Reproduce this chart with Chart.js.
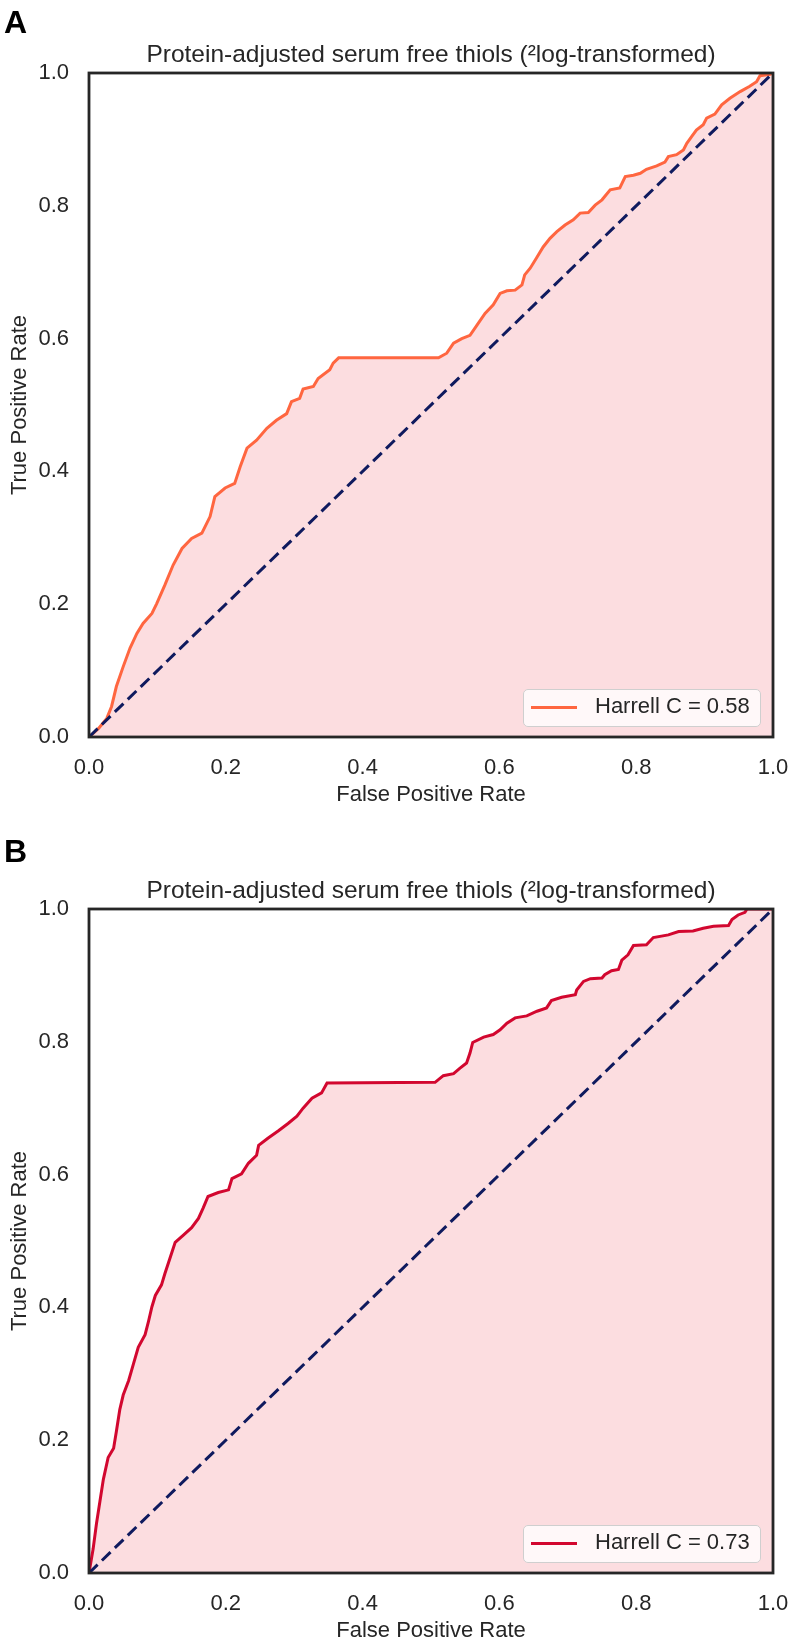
<!DOCTYPE html>
<html>
<head>
<meta charset="utf-8">
<script src="https://cdn.jsdelivr.net/npm/chart.js@4.4.1/dist/chart.umd.min.js"></script>
<style>
  html, body { margin: 0; padding: 0; background: #fff; }
  body { width: 791px; height: 1646px; position: relative; overflow: hidden;
         font-family: "Liberation Sans", Arial, sans-serif; color: #262626; }
  .panel { position: absolute; left: 0; width: 791px; height: 810px; }
  .legend { position: absolute; left: 523px; top: 689px; width: 236px; height: 36px;
            border: 1px solid #cfcfcf; border-radius: 5px; background: rgba(255,255,255,0.8); }
  .legend .swatch { position: absolute; left: 7px; top: 16px; width: 46px; height: 3px; }
  .legend .text { position: absolute; left: 71px; top: 4px; font-size: 22px; line-height: 24px; white-space: nowrap; }
</style>
</head>
<body>

<div class="panel" style="top:0">
  <canvas id="chartA" width="791" height="810"></canvas>
  <div class="legend"><span class="swatch" style="background:#FF6640"></span><span class="text">Harrell C = 0.58</span></div>
</div>
<div class="panel" style="top:836px">
  <canvas id="chartB" width="791" height="810"></canvas>
  <div class="legend"><span class="swatch" style="background:#D2072F"></span><span class="text">Harrell C = 0.73</span></div>
</div>

<script>
// ============================================================
//  ROC curves
// ============================================================

const titleText = 'Protein-adjusted serum free thiols (\u00B2log-transformed)';
const tickValues = [0, 0.2, 0.4, 0.6, 0.8, 1.0];
const chanceLine = [0, 1];

// Panel A
const fprA = [0, 0.014, 0.026, 0.033, 0.040, 0.050, 0.060, 0.070, 0.079, 0.092,
    0.099, 0.111, 0.123, 0.136, 0.150, 0.165, 0.177, 0.184, 0.199, 0.213,
    0.221, 0.231, 0.245, 0.260, 0.274, 0.289, 0.296, 0.308, 0.313, 0.328,
    0.335, 0.352, 0.357, 0.365, 0.511, 0.523, 0.533, 0.545, 0.557, 0.567,
    0.579, 0.591, 0.601, 0.611, 0.623, 0.633, 0.637, 0.645, 0.654, 0.664,
    0.674, 0.684, 0.696, 0.708, 0.718, 0.730, 0.740, 0.750, 0.762, 0.776,
    0.784, 0.796, 0.806, 0.815, 0.830, 0.842, 0.847, 0.859, 0.869, 0.874,
    0.881, 0.888, 0.898, 0.903, 0.915, 0.925, 0.937, 0.952, 0.966, 0.976,
    0.981, 0.996, 1.0];
const tprA = [0, 0.013, 0.028, 0.046, 0.076, 0.106, 0.134, 0.156, 0.171, 0.186,
    0.201, 0.229, 0.259, 0.284, 0.299, 0.307, 0.332, 0.362, 0.375, 0.382,
    0.407, 0.435, 0.447, 0.465, 0.477, 0.487, 0.505, 0.510, 0.524, 0.528,
    0.540, 0.553, 0.563, 0.571, 0.571, 0.578, 0.593, 0.600, 0.605, 0.620,
    0.638, 0.651, 0.668, 0.672, 0.673, 0.681, 0.696, 0.706, 0.721, 0.738,
    0.751, 0.761, 0.771, 0.779, 0.789, 0.790, 0.801, 0.809, 0.824, 0.827,
    0.844, 0.846, 0.849, 0.855, 0.860, 0.866, 0.874, 0.877, 0.884, 0.894,
    0.904, 0.914, 0.922, 0.932, 0.938, 0.952, 0.962, 0.972, 0.980, 0.987,
    0.996, 0.998, 1.0];

// Panel B
const fprB = [0, 0.006, 0.011, 0.016, 0.021, 0.028, 0.036, 0.040, 0.045, 0.050,
    0.058, 0.065, 0.072, 0.082, 0.087, 0.092, 0.097, 0.106, 0.111, 0.118,
    0.126, 0.138, 0.150, 0.160, 0.167, 0.174, 0.189, 0.204, 0.209, 0.223,
    0.233, 0.245, 0.248, 0.262, 0.277, 0.291, 0.304, 0.313, 0.326, 0.340,
    0.348, 0.506, 0.518, 0.533, 0.542, 0.552, 0.557, 0.561, 0.577, 0.591,
    0.601, 0.611, 0.623, 0.640, 0.655, 0.669, 0.676, 0.691, 0.711, 0.713,
    0.723, 0.733, 0.750, 0.754, 0.764, 0.774, 0.779, 0.788, 0.796, 0.815,
    0.825, 0.847, 0.862, 0.883, 0.898, 0.913, 0.935, 0.940, 0.949, 0.959,
    0.962, 1.0];
const tprB = [0, 0.036, 0.075, 0.108, 0.141, 0.174, 0.188, 0.213, 0.246, 0.268,
    0.290, 0.315, 0.340, 0.359, 0.379, 0.401, 0.418, 0.434, 0.451, 0.473,
    0.498, 0.509, 0.520, 0.534, 0.550, 0.567, 0.573, 0.577, 0.594, 0.601,
    0.617, 0.629, 0.644, 0.655, 0.666, 0.677, 0.688, 0.700, 0.715, 0.723,
    0.738, 0.739, 0.749, 0.752, 0.760, 0.768, 0.783, 0.799, 0.807, 0.811,
    0.818, 0.828, 0.836, 0.839, 0.846, 0.851, 0.862, 0.867, 0.871, 0.878,
    0.891, 0.895, 0.896, 0.901, 0.907, 0.909, 0.923, 0.931, 0.945, 0.946,
    0.957, 0.961, 0.966, 0.967, 0.971, 0.974, 0.975, 0.984, 0.991, 0.995,
    1.0, 1.0];

const FONT = '"Liberation Sans", Arial, sans-serif';
const TEXT = '#262626';
const FILL = '#FCDDE0';
const NAVY = '#0F1A5E';

// frame around the plot area + bold panel letter
const framePlugin = {
    id: 'frame',
    afterDatasetsDraw(chart) {
        const { ctx, chartArea: a } = chart;
        ctx.save();
        ctx.strokeStyle = TEXT;
        ctx.lineWidth = 2.8;
        ctx.strokeRect(a.left, a.top, a.right - a.left, a.bottom - a.top);
        ctx.restore();
    },
    afterDraw(chart, args, opts) {
        const ctx = chart.ctx;
        ctx.save();
        ctx.font = 'bold 32px ' + FONT;
        ctx.fillStyle = '#000';
        ctx.textBaseline = 'alphabetic';
        ctx.fillText(opts.letter, 4, opts.baseline);
        ctx.restore();
    }
};

function makeRoc(canvasId, letter, letterBaseline, fpr, tpr, color) {
    const ctx = document.getElementById(canvasId).getContext('2d');
    return new Chart(ctx, {
        type: 'line',
        data: {
            datasets: [
                {
                    label: 'chance',
                    data: chanceLine.map(v => ({ x: v, y: v })),
                    borderColor: NAVY,
                    borderWidth: 3,
                    borderDash: [12, 6],
                    pointRadius: 0,
                    fill: false,
                    order: 0,
                },
                {
                    label: 'roc',
                    data: fpr.map((x, i) => ({ x: x, y: tpr[i] })),
                    borderColor: color,
                    borderWidth: 3,
                    backgroundColor: FILL,
                    pointRadius: 0,
                    tension: 0,
                    fill: 'origin',
                    order: 1,
                }
            ]
        },
        options: {
            responsive: false,
            animation: false,
            layout: { padding: { left: 0, right: 18, top: 0, bottom: 0 } },
            plugins: {
                legend: { display: false },
                tooltip: { enabled: false },
                title: {
                    display: true,
                    fullSize: false,
                    text: titleText,
                    color: TEXT,
                    font: { family: FONT, size: 24.5, weight: 'normal' },
                    padding: { top: 41, bottom: 2.6 },
                },
                frame: { letter: letter, baseline: letterBaseline },
            },
            scales: {
                x: {
                    type: 'linear', min: 0, max: 1,
                    afterBuildTicks: s => { s.ticks = tickValues.map(v => ({ value: v })); },
                    ticks: {
                        callback: v => v.toFixed(1),
                        color: TEXT, padding: 17.5,
                        font: { family: FONT, size: 22 },
                        maxRotation: 0,
                    },
                    grid: { display: false, drawTicks: false },
                    border: { display: false },
                    title: {
                        display: true, text: 'False Positive Rate', color: TEXT,
                        font: { family: FONT, size: 22 }, padding: { top: 0, bottom: 2 },
                    },
                    afterFit: s => { s.height = 73; s.paddingLeft = 0; s.paddingRight = 0; },
                },
                y: {
                    type: 'linear', min: 0, max: 1,
                    afterBuildTicks: s => { s.ticks = tickValues.map(v => ({ value: v })); },
                    ticks: {
                        callback: v => v.toFixed(1),
                        color: TEXT, padding: 20,
                        font: { family: FONT, size: 22 },
                    },
                    grid: { display: false, drawTicks: false },
                    border: { display: false },
                    title: {
                        display: true, text: 'True Positive Rate', color: TEXT,
                        font: { family: FONT, size: 22 }, padding: { top: 7, bottom: 0 },
                    },
                    afterFit: s => { s.width = 89; s.paddingTop = 0; s.paddingBottom = 0; },
                }
            }
        },
        plugins: [framePlugin]
    });
}

makeRoc('chartA', 'A', 33, fprA, tprA, '#FF6640');
makeRoc('chartB', 'B', 26, fprB, tprB, '#D2072F');
</script>
</body>
</html>
